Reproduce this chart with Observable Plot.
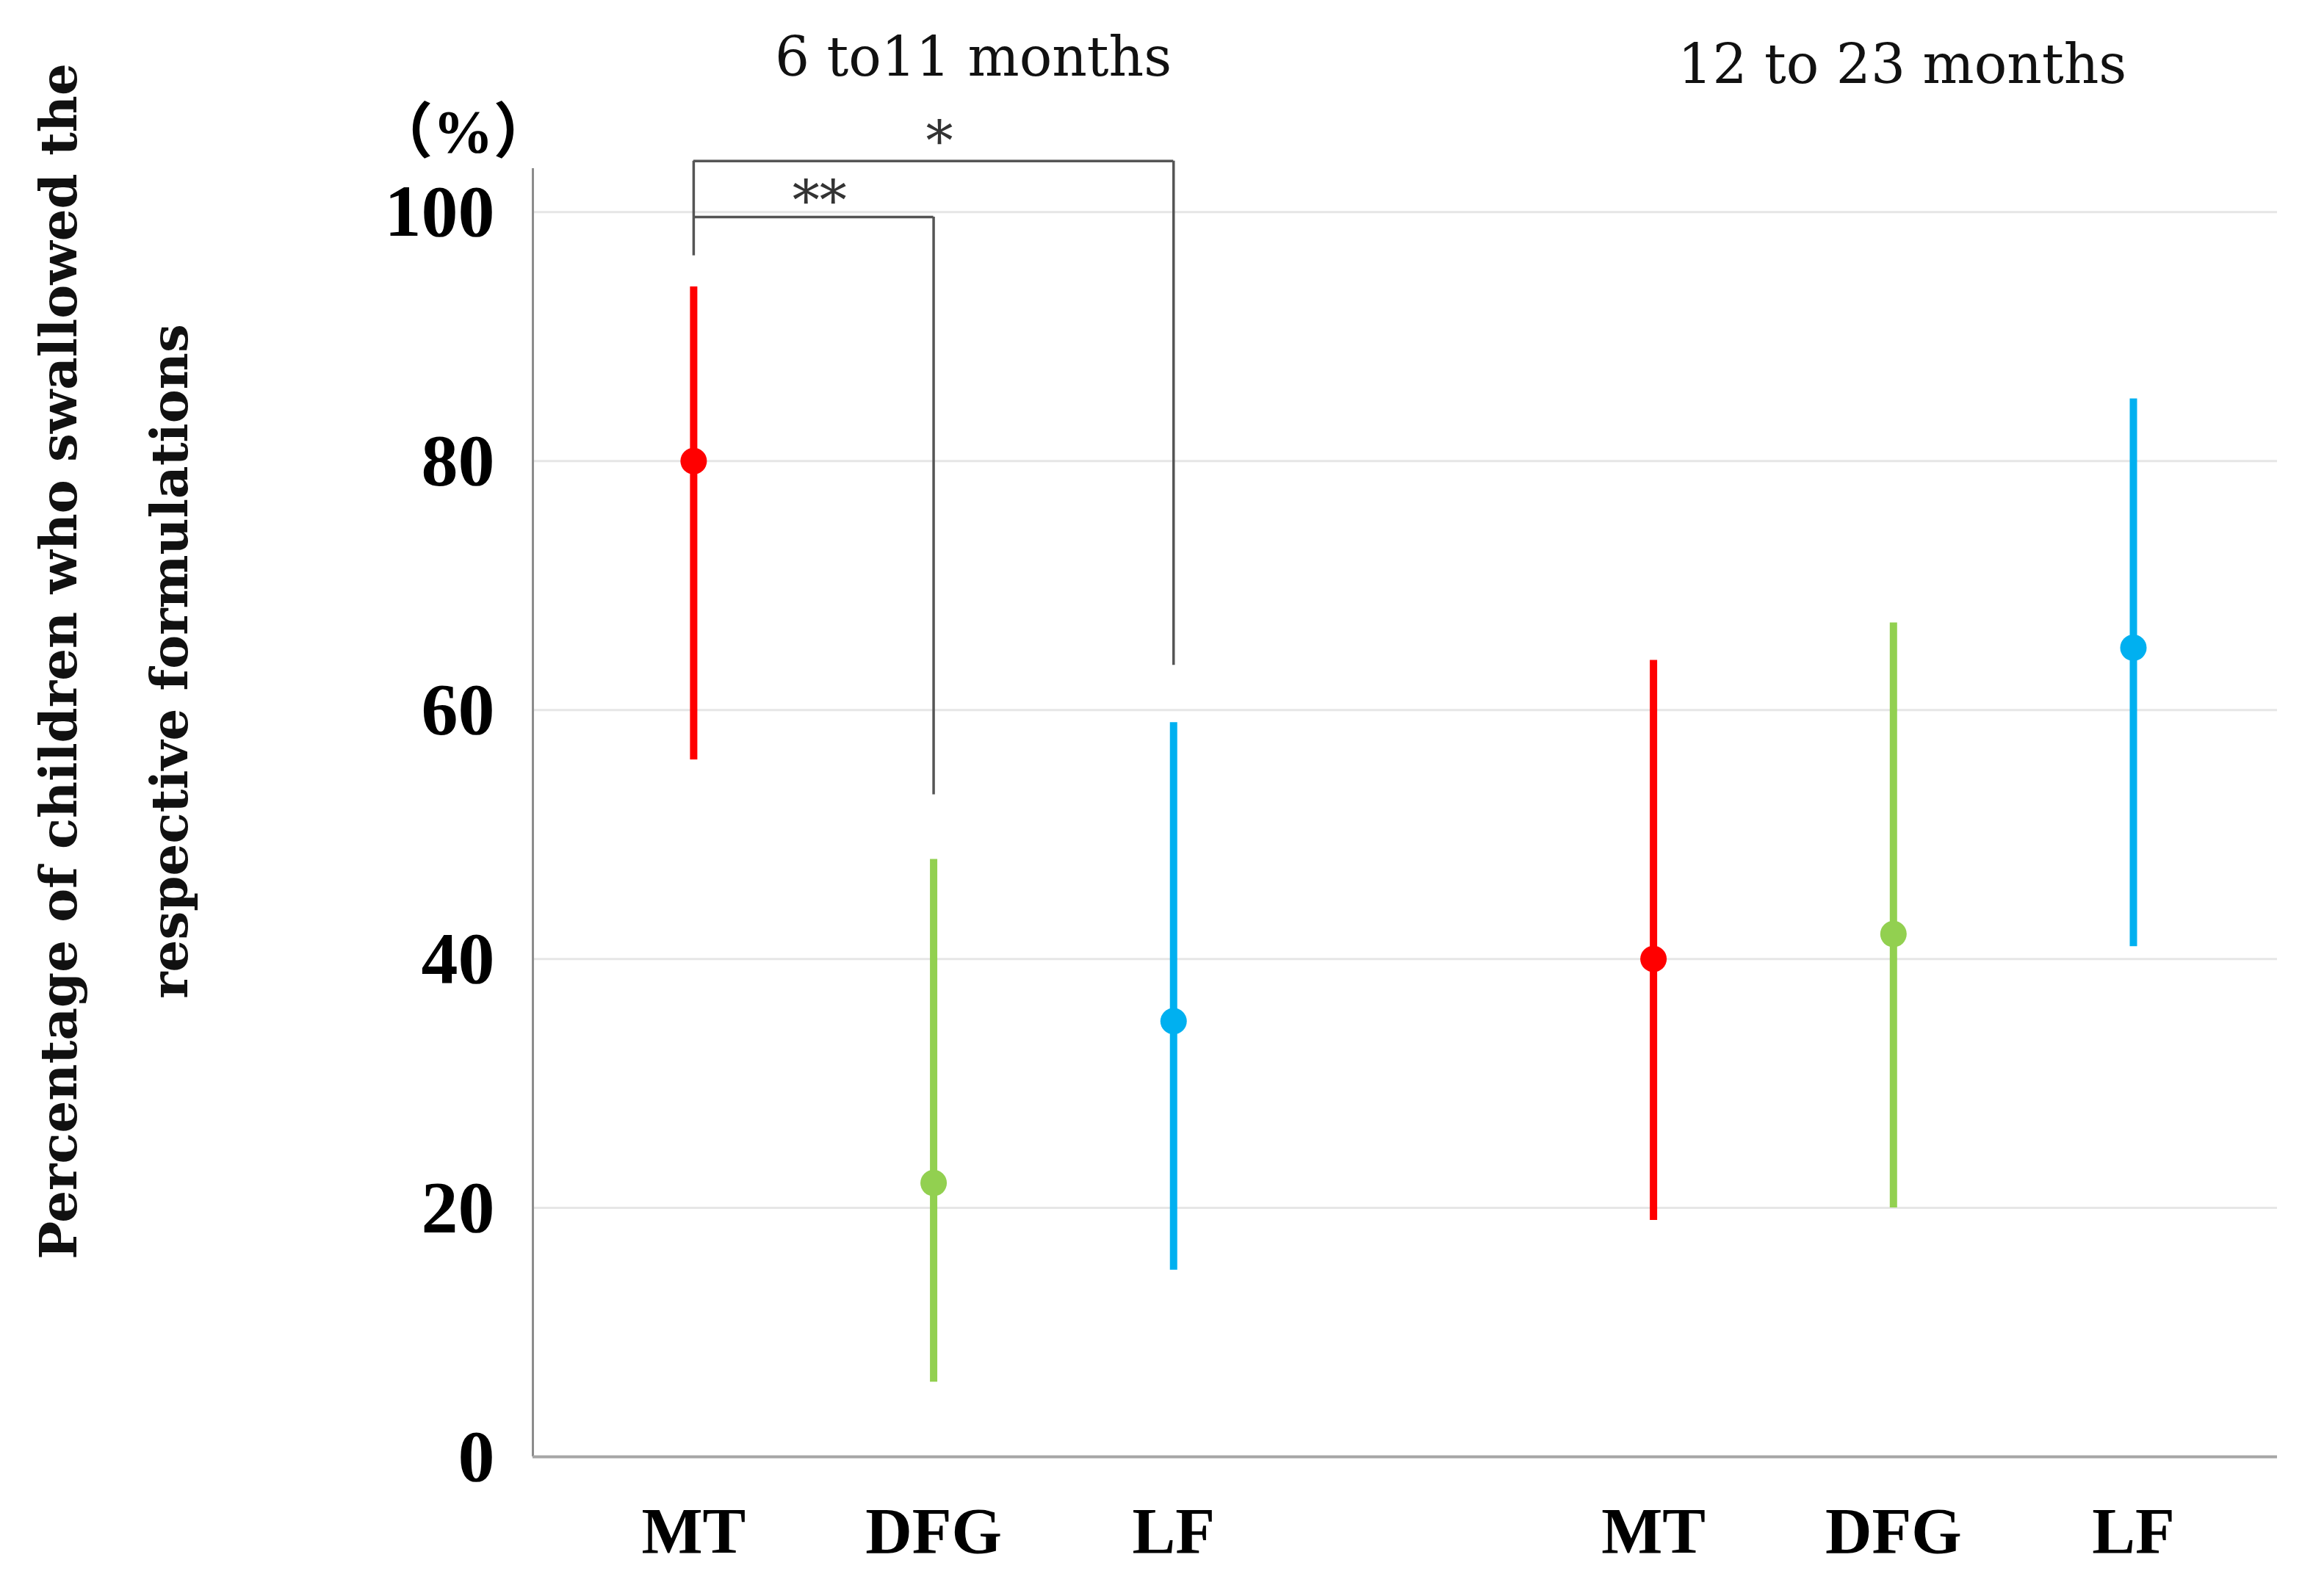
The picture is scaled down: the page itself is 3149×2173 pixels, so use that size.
<!DOCTYPE html>
<html><head><meta charset="utf-8">
<script src="https://cdn.jsdelivr.net/npm/d3@7"></script>
<script src="https://cdn.jsdelivr.net/npm/@observablehq/plot@0.6"></script>
<style>html,body{margin:0;padding:0;background:#fff;} svg{display:block}</style>
</head><body><div id="chart"></div>
<script>
const groups = ["6 to11 months", "12 to 23 months"];
const categories = ["MT", "DFG", "LF"];
const colors = ["#ff0000", "#92d050", "#00b0f0"];
const means = [[80, 22, 35], [40, 42, 65]];
const lows  = [[56, 6, 15], [19, 20, 41]];
const highs = [[94, 48, 59], [64, 67, 85]];
const yTicks = [0, 20, 40, 60, 80, 100];
const yUnit = "（%）";
const yTitle = ["Percentage of children who swallowed the", "respective formulations"];
const bracketGroup = [0, 0];
const bracketFrom = ["MT", "MT"];
const bracketTo = ["DFG", "LF"];
const bracketTop = [99.6, 104.1];
const bracketFromEnd = [96.5, 99.6];
const bracketToEnd = [53.2, 63.6];
const bracketLabel = ["**", "*"];
const bracketLabelY = [101.6, 106.4];

const step = categories.length + 1;
const pos = (g, c) => g * step + categories.indexOf(c);
const rows = [];
groups.forEach((g, gi) => categories.forEach((c, ci) => rows.push({
  group: g, category: c, x: pos(gi, c), mean: means[gi][ci], lo: lows[gi][ci], hi: highs[gi][ci]
})));
const brackets = bracketLabel.map((l, i) => ({
  x1: pos(bracketGroup[i], bracketFrom[i]), x2: pos(bracketGroup[i], bracketTo[i]),
  top: bracketTop[i], fromEnd: bracketFromEnd[i], toEnd: bracketToEnd[i],
  label: l, labelY: bracketLabelY[i]
}));
const tickPos = rows.map(d => d.x);
const tickLab = new Map(rows.map(d => [d.x, d.category]));
const xDomain = [-0.67, 6.6];
const yDomain = [0, 103.5];
const serif = "'Liberation Serif', 'Times New Roman', serif";
const serif2 = "'DejaVu Serif', serif";

const chart = Plot.plot({
  width: 3149, height: 2173,
  marginLeft: 725, marginRight: 49, marginTop: 229, marginBottom: 190,
  style: {background: "#fff", fontFamily: serif},
  x: {type: "linear", domain: xDomain, axis: null},
  y: {domain: yDomain, axis: null},
  color: {domain: categories, range: colors},
  marks: [
    Plot.gridY(yTicks.filter(d => d > 0), {stroke: "#e6e6e6", strokeOpacity: 1, strokeWidth: 3}),
    Plot.ruleX([xDomain[0]], {y1: yDomain[0], y2: yDomain[1], stroke: "#8c8c8c", strokeWidth: 3}),
    Plot.ruleY([0], {x1: xDomain[0], x2: xDomain[1], stroke: "#a6a6a6", strokeWidth: 4}),
    Plot.axisY({ticks: yTicks, tickSize: 0, tickPadding: 52, fontSize: 100, fontWeight: "bold", fontFamily: serif, label: null, fill: "#000"}),
    Plot.axisX({ticks: tickPos, tickFormat: d => tickLab.get(d), tickSize: 0, tickPadding: 68, fontSize: 88, fontWeight: "bold", fontFamily: serif, label: null, fill: "#000"}),
    Plot.ruleY(brackets, {x1: "x1", x2: "x2", y: "top", stroke: "#555", strokeWidth: 3.5}),
    Plot.ruleX(brackets, {x: "x1", y1: "fromEnd", y2: "top", stroke: "#555", strokeWidth: 3.5}),
    Plot.ruleX(brackets, {x: "x2", y1: "toEnd", y2: "top", stroke: "#555", strokeWidth: 3.5}),
    Plot.text(brackets, {x: d => (d.x1 + d.x2) / 2, y: "labelY", text: "label", dx: 8, dy: 14, fontSize: 74, fontFamily: serif2, lineAnchor: "middle", fill: "#333", style: "letter-spacing:6px"}),
    Plot.ruleX(rows, {x: "x", y1: "lo", y2: "hi", stroke: "category", strokeWidth: 10}),
    Plot.dot(rows, {x: "x", y: "mean", r: 18, fill: "category", stroke: null}),
    Plot.text([groups[0]], {x: pos(0, "DFG"), frameAnchor: "top", lineAnchor: "bottom", dy: -127, dx: 54, fontSize: 74, fontFamily: serif2, fill: "#111"}),
    Plot.text([groups[1]], {x: pos(1, "DFG"), frameAnchor: "top", lineAnchor: "bottom", dy: -117, dx: 12, fontSize: 74, fontFamily: serif2, fill: "#111"}),
    Plot.text([yUnit], {frameAnchor: "top-left", textAnchor: "middle", lineAnchor: "middle", dx: -95, dy: -49, fontSize: 82, fontWeight: "bold", fontFamily: "'Liberation Serif', 'Noto Sans CJK JP', serif", fill: "#000"}),
    Plot.text([yTitle.join("\n")], {frameAnchor: "left", rotate: -90, dx: -594, dy: -206, lineHeight: 2.18, fontSize: 69, fontWeight: "bold", fontFamily: serif2, textAnchor: "middle", lineAnchor: "middle", fill: "#111"})
  ]
});
document.getElementById("chart").appendChild(chart);
</script>
</body></html>
